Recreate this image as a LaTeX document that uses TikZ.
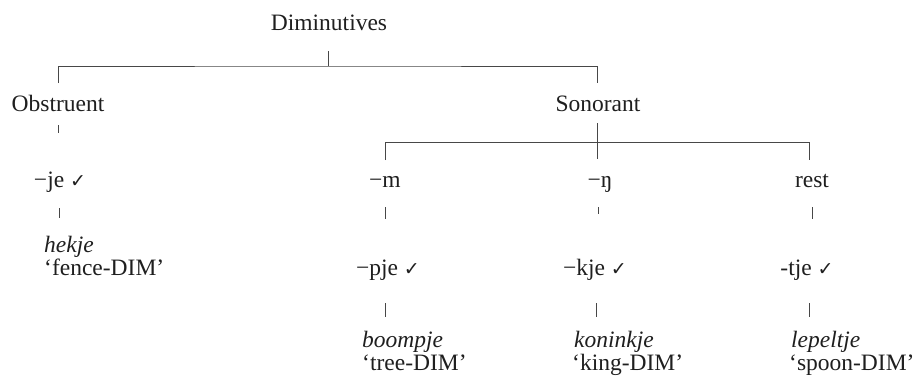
\documentclass[tikz,border=0pt]{standalone}
\usepackage{fontspec}
\setmainfont{Liberation Serif}
\newfontfamily\symfnt{DejaVu Sans}
\newcommand\chkmark{{\symfnt\fontsize{19}{22}\selectfont ✓}}
\begin{document}
\begin{tikzpicture}[x=1pt,y=-1pt,
  lbl/.style={anchor=base,inner sep=0pt,font=\fontsize{23.5}{27}\selectfont,text=black!88},
  ex/.style={anchor=base west,inner sep=0pt,font=\fontsize{23.5}{27}\selectfont,text=black!88},
  ln/.style={draw=black!72,line width=0.9pt}]
\useasboundingbox (0,0) rectangle (914,378);
% labels
\node[lbl] (dim) at (329,30) {Diminutives};
\node[lbl] (obs) at (58,111) {Obstruent};
\node[lbl] (son) at (598,111) {Sonorant};
\node[lbl] (je) at (60,187) {−je \chkmark};
\node[lbl] (m) at (385,187) {−m};
\node[lbl] (ng) at (600,187) {−ŋ};
\node[lbl] (rest) at (812,187) {rest};
\node[lbl] (pje) at (388,275) {−pje \chkmark};
\node[lbl] (kje) at (595,275) {−kje \chkmark};
\node[lbl] (tje) at (807,275) {-tje \chkmark};
\node[ex] (hekje) at (44,252) {\itshape hekje};
\node[ex] (fence) at (44,275) {‘fence-DIM’};
\node[ex] (boom) at (362,347) {\itshape boompje};
\node[ex] (tree) at (362,370) {‘tree-DIM’};
\node[ex] (kon) at (574,347) {\itshape koninkje};
\node[ex] (king) at (572,370) {‘king-DIM’};
\node[ex] (lep) at (791,347) {\itshape lepeltje};
\node[ex] (spoon) at (789,370) {‘spoon-DIM’};
% connector end points
\coordinate (dimS) at (328,51);
\coordinate (dimJ) at (328,66);
\coordinate (obsN) at (58,83);
\coordinate (sonN) at (597,83);
\coordinate (obsS1) at (58,125);
\coordinate (obsS2) at (58,133);
\coordinate (sonS) at (597,123);
\coordinate (sonJ) at (597,159);
\coordinate (mN) at (385,160);
\coordinate (restN) at (809,160);
\coordinate (bar2) at (809,142);
\coordinate (jeS1) at (59,208);
\coordinate (jeS2) at (59,218);
\coordinate (mS1) at (385,207);
\coordinate (mS2) at (385,219);
\coordinate (ngS1) at (598,207);
\coordinate (ngS2) at (598,214);
\coordinate (restS1) at (812,207);
\coordinate (restS2) at (812,219);
\coordinate (pjeS1) at (385,303);
\coordinate (pjeS2) at (385,317);
\coordinate (kjeS1) at (596,303);
\coordinate (kjeS2) at (596,317);
\coordinate (tjeS1) at (809,303);
\coordinate (tjeS2) at (809,317);
% connectors
\draw[ln] (dimS) -- (dimJ);
\draw[ln] (obsN) |- (dimJ) -| (sonN);
\draw[ln] (obsS1) -- (obsS2);
\draw[ln] (sonS) -- (sonJ);
\draw[ln] (mN) |- (bar2) -- (restN);
\draw[ln] (jeS1) -- (jeS2);
\draw[ln] (mS1) -- (mS2);
\draw[ln] (ngS1) -- (ngS2);
\draw[ln] (restS1) -- (restS2);
\draw[ln] (pjeS1) -- (pjeS2);
\draw[ln] (kjeS1) -- (kjeS2);
\draw[ln] (tjeS1) -- (tjeS2);
\end{tikzpicture}
\end{document}
